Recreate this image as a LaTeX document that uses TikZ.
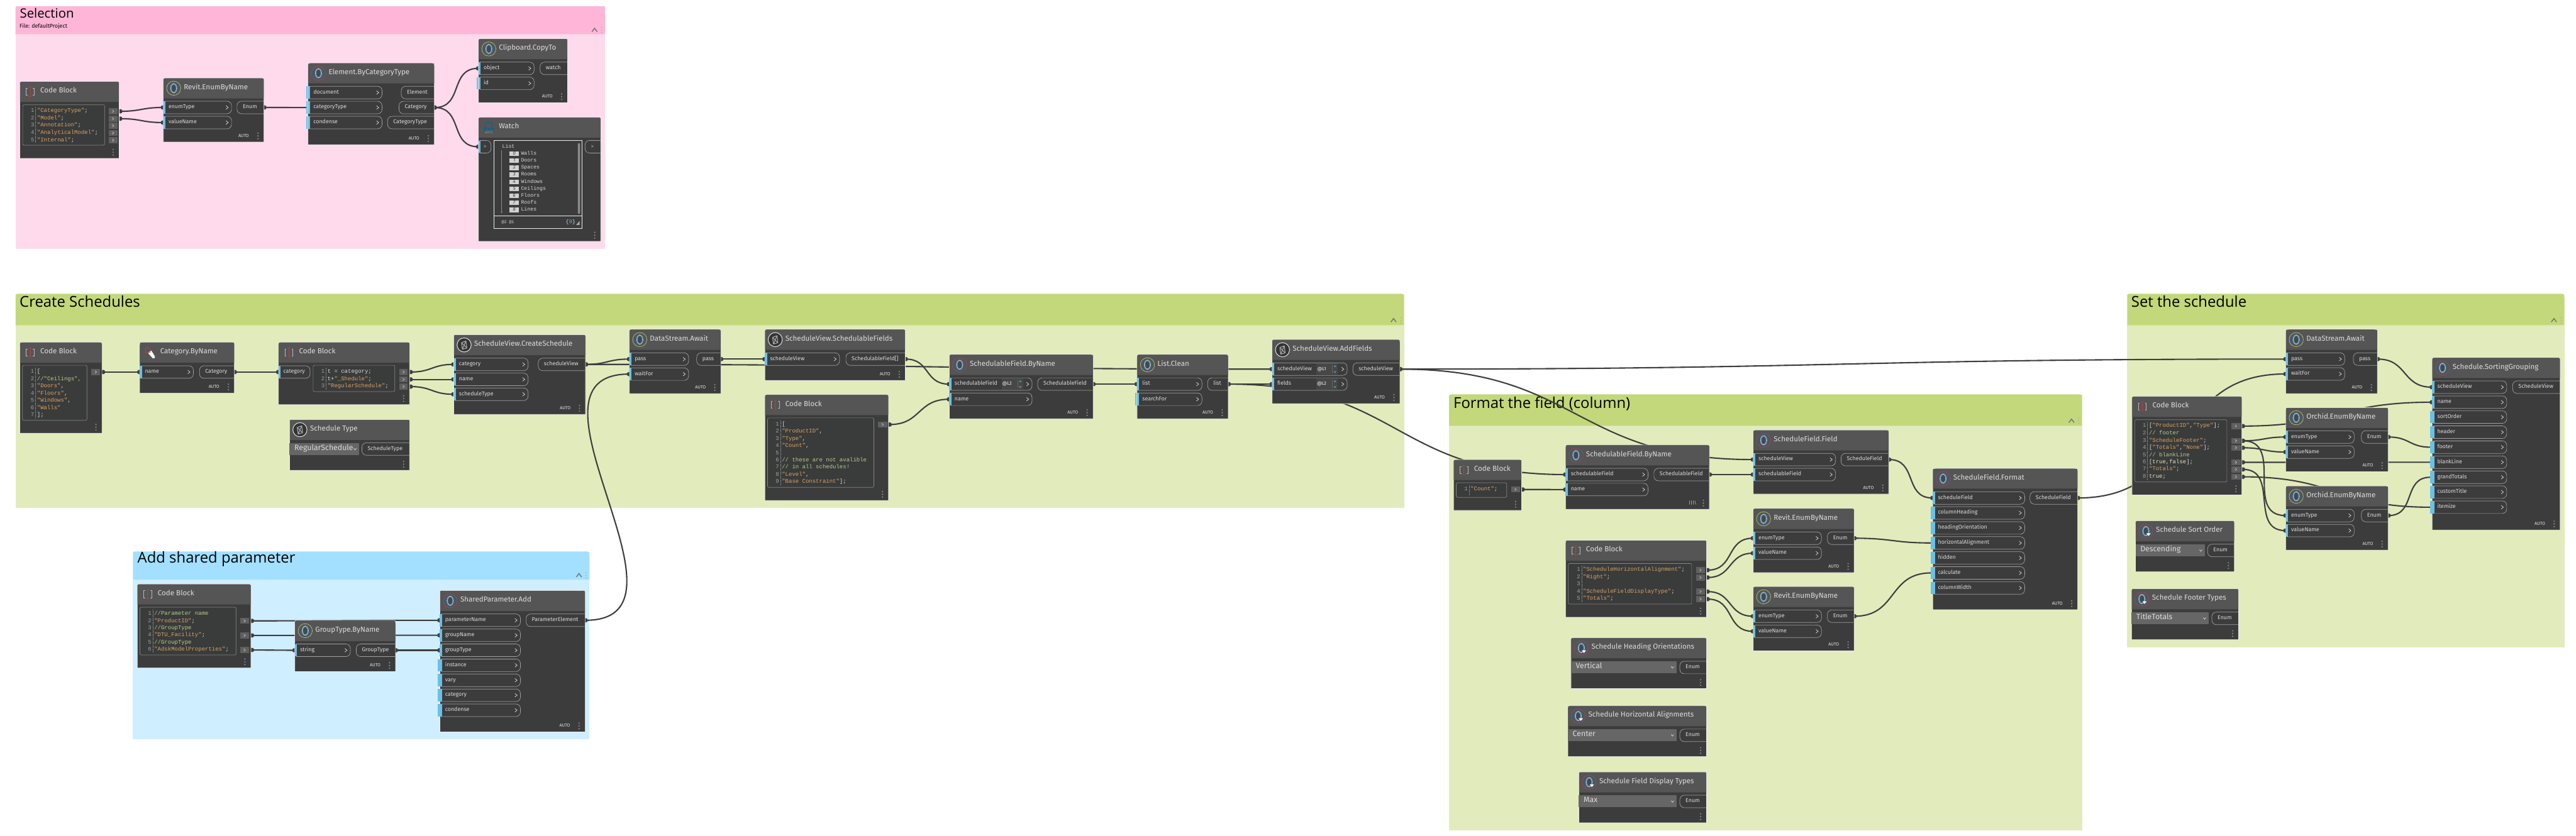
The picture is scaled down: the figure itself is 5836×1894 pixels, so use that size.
\documentclass[tikz,border=0pt]{standalone}
\usepackage{fontspec}
\setmainfont{Fira Sans}
\newfontfamily\monof{Liberation Mono}
\newfontfamily\titlef{Open Sans}
\usetikzlibrary{calc}
\definecolor{bodyc}{HTML}{3C3C3C}
\definecolor{hdrc}{HTML}{555555}
\definecolor{cboxc}{HTML}{3A3B3B}
\definecolor{stripc}{HTML}{6AC0E7}
\definecolor{pillc}{HTML}{A0A0A0}
\definecolor{labc}{HTML}{DCDCDC}
\definecolor{strc}{HTML}{D9A367}
\definecolor{cmc}{HTML}{B4CF8A}
\definecolor{boolc}{HTML}{E8E2C4}
\definecolor{plc}{HTML}{DADADA}
\definecolor{numc}{HTML}{A0A0A0}
\definecolor{chipc}{HTML}{5F5F5F}
\definecolor{ddc}{HTML}{666666}
\definecolor{wirec}{HTML}{3E3E3E}
\definecolor{selH}{HTML}{FFB5D8}
\definecolor{selB}{HTML}{FFDAED}
\definecolor{grnH}{HTML}{C2D87A}
\definecolor{grnB}{HTML}{E2EBBC}
\definecolor{bluH}{HTML}{A3E0FF}
\definecolor{bluB}{HTML}{CFEEFF}
\definecolor{iconb}{HTML}{3F5B6E}
\definecolor{ringY}{HTML}{D8B84A}
\definecolor{ringR}{HTML}{B8403F}
\pgfdeclarelayer{grp}\pgfdeclarelayer{wr}\pgfsetlayers{grp,wr,main}
\tikzset{
 txt/.style={inner sep=0pt,outer sep=0pt,anchor=mid west,text=labc,font=\fontsize{12.6}{14}\selectfont},
 ttl/.style={txt,text=labc,font=\fontsize{16.5}{19}\selectfont},
 mono/.style={txt,text=plc,font=\monof\fontsize{12.8}{14}\selectfont},
 gtitle/.style={txt,text=black,font=\titlef\fontsize{34}{38}\selectfont},
 autot/.style={txt,anchor=mid,text=white!90!black,font=\fontsize{10}{12}\selectfont},
 boxnode/.style={anchor=north west,inner sep=0pt,outer sep=0pt},
 pill/.style={draw=pillc,line width=1pt,rounded corners=10pt},
 wire/.style={draw=wirec,line width=3pt},
 chev/.style={draw=labc,line width=1pt},
}
\newcounter{lb}
\newcommand{\lbl}[4][]{\stepcounter{lb}\node[name=t\arabic{lb},txt,#1] at (#2,#3) {#4};}
\newcommand{\st}[1]{\textcolor{strc}{#1}}
\newcommand{\cmt}[1]{\textcolor{cmc}{#1}}
\newcommand{\bl}[1]{\textcolor{boolc}{#1}}
% groups
\newcommand{\grp}[8]{\node[boxnode,minimum width=2pt,minimum height=2pt] (#1) at (#2,#3) {};
 \fill[#8] (#2,#6) rectangle (#4,#5);
 \fill[#7] (#2,#6) -- (#2,#3+9) .. controls (#2,#3) .. (#2+9,#3) -- (#4-9,#3) .. controls (#4,#3) .. (#4,#3+9) -- (#4,#6) -- cycle;}
\newcommand{\grpctl}[3]{\draw[draw=black!55,line width=2pt] (#1-6,#2+4) -- (#1,#2-4) -- (#1+6,#2+4);
 \foreach \q in {-6,0,6}{\fill[black!40] (#3,#2+\q) circle[radius=1pt];}}
% icons
\newcommand{\iconO}[3]{\fill[iconb] (#1,#2) circle[radius=15.5pt];
 \draw[#3,line width=1pt] (#1,#2) circle[radius=16pt];
 \draw[draw=black!38,fill=iconb!85!black,line width=2.6pt] (#1,#2) ellipse[x radius=6.6pt,y radius=10pt];
 \foreach \a/\b in {0/-10,0/10,-6.6/0,6.6/0}{\fill[white!85!black] (#1+\a,#2+\b) circle[radius=.9pt];}}
\newcommand{\iconY}[2]{\iconO{#1}{#2}{ringY}}
\newcommand{\iconR}[2]{\iconO{#1}{#2}{ringR}}
\newcommand{\iconD}[2]{\iconO{#1}{#2}{ringR}\fill[white] (#1+1,#2+5) -- (#1+11,#2+5) -- (#1+6,#2+11) -- cycle;}
\newcommand{\iconV}[2]{\fill[bodyc!85!black] (#1,#2) circle[radius=15.5pt];
 \draw[black!15,line width=1.5pt] (#1,#2) circle[radius=16pt];
 \draw[black!35,line width=1.6pt,line join=round] (#1-6,#2-5) -- (#1+4,#2-9) -- (#1+6,#2+7) -- (#1-4,#2+10) -- cycle (#1-6,#2-5) -- (#1+6,#2+7) (#1+4,#2-9) -- (#1-4,#2+10);}
\newcommand{\iconC}[2]{\draw[black!28,line width=1pt] (#1-6,#2-8) -- (#1-9,#2-8) -- (#1-9,#2+8) -- (#1-6,#2+8) (#1+6,#2-8) -- (#1+9,#2-8) -- (#1+9,#2+8) -- (#1+6,#2+8);
 \draw[ringR,line width=1.4pt] (#1,#2-10) -- (#1,#2+10) (#1-2.5,#2-10) -- (#1+2.5,#2-10) (#1-2.5,#2+10) -- (#1+2.5,#2+10);}
\newcommand{\iconT}[2]{\fill[white] (#1-2,#2-2) -- (#1+3,#2-4) -- (#1+11,#2+9) -- (#1+10,#2+13) -- (#1+6,#2+13) -- (#1-4,#2+2) -- cycle;
 \draw[ringR,line width=1pt] (#1-11,#2-10) rectangle (#1,#2-1);}
\newcommand{\iconW}[2]{\draw[blue!35!cyan!60!black,line width=1.3pt] (#1-10,#2+9) -- (#1-7,#2-9) .. controls (#1-3,#2-13) and (#1+3,#2-13) .. (#1+7,#2-9) -- (#1+10,#2+9) (#1-10,#2+2) -- (#1+10,#2+2) -- (#1+4,#2+9) -- (#1,#2+4) -- (#1-4,#2+9) -- cycle;
 \lbl[anchor=mid,text=black!45,font=\fontsize{9}{10}\selectfont]{#1}{#2+11}{ab12}}
% footers
\newcommand{\ftD}{\foreach \q in {-6.3,0,6.3}{\fill[black!45] (\curR-13.6,\curB-13.9+\q) circle[radius=1.7pt];}}
\newcommand{\ftA}{\ftD\lbl[autot]{\curR-46}{\curB-13.9}{AUTO}}
\newcommand{\ftL}{\ftD\lbl[autot]{\curR-38}{\curB-13.9}{|||\textbackslash}}
% Dynamo node
\newcommand{\dnode}[9]{\gdef\curX{#2}\gdef\curR{#4}\gdef\curB{#5}%
 \pgfmathsetmacro\myw{#4-#2}\pgfmathsetmacro\myh{#5-#3}\pgfmathsetmacro\myc{(#3+#6)/2}%
 \node[boxnode,minimum width=\myw pt,minimum height=\myh pt] (#1) at (#2,#3) {};
 \path[fill=bodyc,draw=white!92!black,line width=1pt] (#2,#5) -- (#2,#3+7) .. controls (#2,#3) .. (#2+7,#3) -- (#4-7,#3) .. controls (#4,#3) .. (#4,#3+7) -- (#4,#5) -- cycle;
 \fill[hdrc] (#2+.5,#6) -- (#2+.5,#3+7) .. controls (#2+.5,#3+.5) .. (#2+7,#3+.5) -- (#4-7,#3+.5) .. controls (#4-.5,#3+.5) .. (#4-.5,#3+7) -- (#4-.5,#6) -- cycle;
 #8{#2+23.5}{\myc}
 \lbl[ttl]{#2+46.5}{\myc}{#7}
 #9}
\newcommand{\pillIn}[1]{\draw[pill] (\curX+3,#1-14.2) -- (\curIR,#1-14.2) -- (\curIR,#1+14.2) -- (\curX+3,#1+14.2);}
\newcommand{\chv}[2]{\draw[chev] (#1-2.5,#2-4) -- (#1+2.5,#2) -- (#1-2.5,#2+4);}
\newcommand{\setIR}[1]{\gdef\curIR{#1}}
\newcommand{\irow}[3]{\pillIn{#2}\fill[stripc] (\curX,#2-14) rectangle (\curX+5,#2+14);
 \chv{\curIR-10}{#2}\lbl{\curX+12}{#2}{#3}\coordinate (#1) at (\curX-1,#2);}
\newcommand{\irowo}[3]{\pillIn{#2}\fill[stripc] (\curX,#2-14) rectangle (\curX+5,#2+14);
 \fill[stripc] (\curX-4.5,#2-14) rectangle (\curX-.8,#2+14);
 \chv{\curIR-10}{#2}\lbl{\curX+12}{#2}{#3}\coordinate (#1) at (\curX-4,#2);}
\newcommand{\orow}[4]{\draw[pill] (\curR-1,#2-14.2) -- (#4,#2-14.2) -- (#4,#2+14.2) -- (\curR-1,#2+14.2);
 \lbl{#4+13}{#2}{#3}\coordinate (#1) at (\curR+1,#2);}
% code block pieces
\newcommand{\cbox}[5]{\gdef\cnx{#5}\draw[fill=cboxc,draw=black!48,line width=1pt,rounded corners=3pt] (#1,#2) rectangle (#3,#4);
 \draw[black!50,line width=.7pt,densely dotted] (#5+3,#2+5) -- (#5+3,#4-5);}
\newcommand{\cl}[3]{\lbl[mono,anchor=mid east,text=numc]{\cnx}{#1}{#2}\lbl[mono]{\cnx+6.5}{#1}{#3}}
\newcommand{\chip}[4]{\fill[chipc] (#2,#4-6.8) rectangle (#3,#4+6.8);
 \pgfmathsetmacro\myq{(#2+#3)/2}\draw[draw=black!18,line width=.8pt] (\myq-1.8,#4-3) -- (\myq+1.8,#4) -- (\myq-1.8,#4+3);
 \coordinate (#1) at (\curR+2.5,#4);}
\newcommand{\ddrow}[4]{\fill[ddc] (\curX,#2) rectangle (#1,#3);
 \pgfmathsetmacro\myd{(#2+#3)/2}%
 \lbl[text=labc,font=\fontsize{17.5}{20}\selectfont]{\curX+11}{\myd}{#4}
 \draw[chev] (#1-12,\myd-1.5) -- (#1-9,\myd+2) -- (#1-6,\myd-1.5);}
\newcommand{\lace}[3]{\fill[black!72] (#1,#2-12.5) rectangle (#1+49,#2+12.5);
 \draw[black!60,line width=.6pt] (#1+36,#2-10) -- (#1+36,#2+10);
 \lbl[anchor=mid,text=white,font=\fontsize{10.5}{12}\selectfont]{#1+12.5}{#2}{#3}
 \draw[stripc,line width=.8pt] (#1+40.5,#2-4.5) -- (#1+42.5,#2-8) -- (#1+44.5,#2-4.5) (#1+40.5,#2+4.5) -- (#1+42.5,#2+8) -- (#1+44.5,#2+4.5);}
% wires: Bezier with horizontal tangents, handles about half the distance
\newcommand{\wcurve}[2]{\path (#1);\pgfgetlastxy{\ax}{\ay}\path (#2);\pgfgetlastxy{\bx}{\by}%
 \pgfmathsetmacro\cd{49*veclen((\bx-\ax)/100,(\by-\ay)/100)}%
 \draw[wire] (#1) .. controls ([xshift=\cd pt]#1) and ([xshift=-\cd pt]#2) .. (#2);}
\newcommand{\wire}[2]{\fill[wirec] (#1) circle[radius=5pt] (#2) circle[radius=5pt];\wcurve{#1}{#2}}
\newcommand{\wireo}[2]{\fill[wirec] (#1) circle[radius=5pt];\wcurve{#1}{#2}}
\begin{document}
\begin{tikzpicture}[x=1pt,y=-1pt]
\useasboundingbox (0,0) rectangle (5836,1894);
\begin{pgfonlayer}{grp}
\fill[white] (0,0) rectangle (5836,1894);
\grp{gSel}{35}{14}{1371}{564}{78}{selH}{selB}
\lbl[gtitle,font=\titlef\fontsize{29}{32}\selectfont]{45}{38}{Selection}
\lbl[txt,text=black,font=\fontsize{12.6}{14}\selectfont]{44.5}{61}{File: defaultProject}
\grpctl{1347}{68}{1363}
\grp{gCre}{35.3}{666}{3181}{1150.7}{737}{grnH}{grnB}
\lbl[gtitle]{44.5}{694}{Create Schedules}
\grpctl{3157}{726}{3174}
\grp{gAdd}{301}{1250}{1335.4}{1676}{1314}{bluH}{bluB}
\lbl[gtitle]{311.6}{1273}{Add shared parameter}
\grpctl{1311.6}{1304}{1327}
\grp{gFmt}{3282.8}{894}{4717}{1882}{965}{grnH}{grnB}
\lbl[gtitle]{3293}{923}{Format the field (column)}
\grpctl{4693}{954}{4709}
\grp{gSet}{4819}{666}{5809.6}{1467}{737}{grnH}{grnB}
\lbl[gtitle]{4828.5}{694}{Set the schedule}
\grpctl{5786}{726}{5802}
\end{pgfonlayer}
% ---------- Selection ----------
\dnode{cbS}{45}{185}{270}{359}{231}{Code Block}{\iconC}{\ftD}
\cbox{51.5}{237.5}{237}{329}{77.5}
\cl{252.3}{1}{\st{"CategoryType"};}
\cl{269}{2}{\st{"Model"};}
\cl{285}{3}{\st{"Annotation"};}
\cl{301.5}{4}{\st{"AnalyticalModel"};}
\cl{318}{5}{\st{"Internal"};}
\chip{cbS1}{246}{266}{252.3}\chip{cbS2}{246}{266}{269}\chip{cbS3}{246}{266}{285}\chip{cbS4}{246}{266}{301.5}\chip{cbS5}{246}{266}{318}
\dnode{revS}{370}{177}{598}{322}{223}{Revit.EnumByName}{\iconY}{\ftA}
\setIR{524.5}
\irow{revSa}{243.6}{enumType}\irow{revSb}{277.8}{valueName}\orow{revSo}{243.6}{Enum}{537}
\dnode{ebc}{698}{143}{984}{328}{189}{Element.ByCategoryType}{\iconR}{\ftA}
\setIR{865.5}
\irowo{ebcA}{209.8}{document}\irowo{ebcB}{243.8}{categoryType}\irowo{ebcC}{277.8}{condense}
\orow{ebcO1}{209.8}{Element}{909}\orow{ebcO2}{243.8}{Category}{904}\orow{ebcO3}{277.8}{CategoryType}{878}
\dnode{clip}{1084}{88}{1286}{233}{134}{Clipboard.CopyTo}{\iconY}{\ftA}
\setIR{1210}
\irow{clipA}{155}{object}\irowo{clipB}{189}{id}\orow{clipO}{155}{watch}{1223.6}
\dnode{wat}{1084}{266}{1361}{547}{312}{Watch}{\iconW}{\ftD}
\setIR{1112.5}
\pillIn{332.6}\fill[stripc] (1084,318.6) rectangle (1089,346.6);
\lbl[anchor=mid,font=\monof\fontsize{10}{12}\selectfont]{1099}{332.6}{>}
\coordinate (watIn) at (1083,332.6);
\draw[pill] (1360,318.4) -- (1325.5,318.4) -- (1325.5,346.8) -- (1360,346.8);
\lbl[anchor=mid,font=\monof\fontsize{10}{12}\selectfont]{1342}{332.6}{>}
\draw[draw=white!92!black,line width=1pt] (1119.4,318.5) rectangle (1318.6,517.6) (1119.4,489.5) -- (1318.6,489.5);
\fill[black!45,rounded corners=2pt] (1309.3,324.5) rectangle (1314.3,485);
\lbl[mono,font=\monof\fontsize{11.7}{14}\selectfont]{1138}{333}{List}
\draw[black!45,line width=.8pt] (1136.4,340) -- (1136.4,481);\fill[black!45] (1136.4,481) circle[radius=1.8pt];
\foreach \yy/\nn/\lname in {348/0/Walls,364.4/1/Doors,380.3/2/Spaces,396.2/3/Rooms,412.1/4/Windows,428/5/Ceilings,444/6/Floors,459.9/7/Roofs,476/8/Lines}{
 \fill[black!18] (1154,\yy-5.2) rectangle (1176,\yy+5.2);
 \lbl[anchor=mid,text=black!75,font=\itshape\fontsize{11}{12}\selectfont]{1165}{\yy}{\nn}
 \lbl[mono,font=\monof\fontsize{11.7}{14}\selectfont]{1180.5}{\yy}{\lname}}
\lbl[mono,font=\monof\fontsize{9.5}{12}\selectfont]{1136.5}{504}{@2 @1}
\lbl[mono,anchor=mid east,font=\monof\fontsize{12}{14}\selectfont]{1303.5}{504}{\{\textcolor{stripc}{9}\}}
\fill[black!35] (1305,510) -- (1313,510) -- (1313,501) -- cycle;
% ---------- Create Schedules ----------
\dnode{cbC}{45}{776}{231}{982}{822}{Code Block}{\iconC}{\ftD}
\cbox{51}{828}{197}{952.7}{77.4}
\cl{843.3}{1}{[}\cl{860}{2}{\cmt{//"Ceilings",}}\cl{876.3}{3}{\st{"Doors"},}\cl{892.3}{4}{\st{"Floors"},}\cl{909}{5}{\st{"Windows"},}\cl{925}{6}{\st{"Walls"}}\cl{941.7}{7}{];}
\chip{cbCo}{207}{227}{843.3}
\dnode{catN}{316.5}{776}{531}{891}{822}{Category.ByName}{\iconT}{\ftA}
\setIR{438}
\irow{catNa}{843.3}{name}\orow{catNo}{843.3}{Category}{452}
\dnode{cbT}{631}{776}{928}{917.3}{822}{Code Block}{\iconC}{\ftD}
\setIR{702.4}
\draw[pill] (634,829.1) -- (702.4,829.1) -- (702.4,857.5) -- (634,857.5);
\fill[stripc] (631,829.3) rectangle (636,857.3);
\lbl{642}{843.3}{category}\coordinate (cbTa) at (630,843.3);
\cbox{709.4}{828}{894.3}{887.7}{735.5}
\cl{843.3}{1}{t = category;}\cl{860}{2}{t+\st{"\_Shedule"};}\cl{876.3}{3}{\st{"RegularSchedule"};}
\chip{cbT1}{904.6}{923.7}{843.3}\chip{cbT2}{904.6}{923.7}{860}\chip{cbT3}{904.6}{923.7}{876.3}
\dnode{schT}{656}{951}{928}{1066}{997}{Schedule Type}{\iconV}{\ftD}
\ddrow{813.3}{1004}{1031.7}{RegularSchedule}
\orow{schTo}{1017.7}{ScheduleType}{820}
\dnode{crS}{1028}{758.7}{1326.5}{939.3}{805}{ScheduleView.CreateSchedule}{\iconV}{\ftA}
\setIR{1196.4}
\irow{crSa}{826}{category}\irow{crSb}{860}{name}\irow{crSc}{893.7}{scheduleType}\orow{crSo}{826}{scheduleView}{1219.4}
\dnode{awA}{1426}{746.7}{1633}{892.3}{793}{DataStream.Await}{\iconY}{\ftA}
\setIR{1560}
\irow{awAa}{814}{pass}\irow{awAb}{848}{waitFor}\orow{awAo}{814}{pass}{1578.4}
\dnode{sfl}{1732.8}{746.7}{2051}{862.3}{793}{ScheduleView.SchedulableFields}{\iconV}{\ftA}
\setIR{1902}
\irow{sfla}{814}{scheduleView}\orow{sflo}{814}{SchedulableField[]}{1916.5}
\dnode{cbF}{1732.8}{894.7}{2013}{1134.3}{941}{Code Block}{\iconC}{\ftD}
\cbox{1739}{947.3}{1979.6}{1104.7}{1765}
\cl{962.3}{1}{[}\cl{979}{2}{\st{"ProductID"},}\cl{995}{3}{\st{"Type"},}\cl{1011}{4}{\st{"Count"},}\cl{1028.3}{5}{}\cl{1044}{6}{\cmt{// these are not avalible}}\cl{1060}{7}{\cmt{// in all schedules!}}\cl{1077}{8}{\st{"Level"},}\cl{1093}{9}{\st{"Base Constraint"}];}
\chip{cbFo}{1989}{2009.7}{962.3}
\dnode{byN}{2150.7}{803.7}{2476.5}{949.3}{850}{SchedulableField.ByName}{\iconR}{\ftA}
\setIR{2338}
\lace{2269}{870.7}{@L2}
\irow{byNa}{870.7}{schedulableField}\irow{byNb}{905}{name}\orow{byNo}{870.7}{SchedulableField}{2351}
\dnode{lcl}{2576}{803.7}{2782.5}{949.3}{850}{List.Clean}{\iconY}{\ftA}
\setIR{2723}
\irow{lcla}{870.7}{list}\irowo{lclb}{905}{searchFor}\orow{lclo}{870.7}{list}{2736}
\dnode{adf}{2882}{769.7}{3171.4}{915}{816}{ScheduleView.AddFields}{\iconV}{\ftA}
\setIR{3052}
\lace{2982}{836.7}{@L1}\lace{2982}{870.7}{@L2}
\irow{adfa}{836.7}{scheduleView}\irow{adfb}{870.7}{fields}\orow{adfo}{836.7}{scheduleView}{3065}
% ---------- Add shared parameter ----------
\dnode{cbP}{311}{1324}{568.4}{1514}{1370}{Code Block}{\iconC}{\ftD}
\cbox{317}{1376.3}{534.7}{1484.7}{343}
\cl{1391.7}{1}{\cmt{//Parameter name}}\cl{1408}{2}{\st{"ProductID"};}\cl{1424.3}{3}{\cmt{//GroupType}}\cl{1440.3}{4}{\st{"DTU\_Facility"};}\cl{1457.3}{5}{\cmt{//GroupType}}\cl{1473.3}{6}{\st{"AdskModelProperties"};}
\chip{cbP1}{544}{564}{1407.3}\chip{cbP2}{544}{564}{1440.3}\chip{cbP3}{544}{564}{1473.3}
\dnode{grT}{668}{1406.3}{896}{1522.3}{1453}{GroupType.ByName}{\iconY}{\ftA}
\setIR{793.7}
\irow{grTa}{1474}{string}\orow{grTo}{1474}{GroupType}{807}
\dnode{shP}{996.5}{1338.7}{1325.6}{1659.3}{1385}{SharedParameter.Add}{\iconR}{\ftA}
\setIR{1179}
\irow{shPa}{1406}{parameterName}\irow{shPb}{1440}{groupName}\irow{shPc}{1474}{groupType}\irowo{shPd}{1508}{instance}\irowo{shPe}{1542}{vary}\irowo{shPf}{1576}{category}\irowo{shPg}{1610}{condense}
\orow{shPo}{1406}{ParameterElement}{1192}
% ---------- Format ----------
\dnode{cbN}{3293}{1042}{3447.3}{1157}{1088}{Code Block}{\iconC}{\ftD}
\cbox{3299}{1094.3}{3413.5}{1127.3}{3325}
\cl{1109.5}{1}{\st{"Count"};}
\chip{cbNo}{3423.7}{3443}{1109.5}
\dnode{byM}{3546.8}{1008.7}{3872.7}{1154.3}{1055}{SchedulableField.ByName}{\iconR}{\ftL}
\setIR{3733.6}
\irow{byMa}{1075.7}{schedulableField}\irow{byMb}{1109.7}{name}\orow{byMo}{1075.7}{SchedulableField}{3747}
\dnode{sfF}{3972}{975}{4279}{1120}{1021}{ScheduleField.Field}{\iconR}{\ftA}
\setIR{4158.4}
\irow{sfFa}{1041.7}{scheduleView}\irow{sfFb}{1075.7}{schedulableField}\orow{sfFo}{1041.7}{ScheduleField}{4171}
\dnode{enA}{3972}{1152.7}{4200.5}{1298}{1199.3}{Revit.EnumByName}{\iconY}{\ftA}
\setIR{4126.5}
\irow{enAa}{1220}{enumType}\irow{enAb}{1254}{valueName}\orow{enAo}{1220}{Enum}{4140}
\dnode{enB}{3972}{1329.8}{4200.5}{1475.5}{1375.8}{Revit.EnumByName}{\iconY}{\ftA}
\setIR{4126.5}
\irow{enBa}{1396.8}{enumType}\irow{enBb}{1431}{valueName}\orow{enBo}{1396.8}{Enum}{4140}
\dnode{cbH}{3546.8}{1225}{3866.3}{1399}{1271}{Code Block}{\iconC}{\ftD}
\cbox{3553}{1277.3}{3832.5}{1369.3}{3580}
\cl{1292.3}{1}{\st{"ScheduleHorizontalAlignment"};}\cl{1309}{2}{\st{"Right"};}\cl{1325}{3}{}\cl{1341}{4}{\st{"ScheduleFieldDisplayType"};}\cl{1358}{5}{\st{"Totals"};}
\chip{cbH1}{3842.7}{3862}{1292.3}\chip{cbH2}{3842.7}{3862}{1309}\chip{cbH4}{3842.7}{3862}{1341}\chip{cbH5}{3842.7}{3862}{1358}
\dnode{ddO}{3559}{1446}{3866.3}{1561}{1492}{Schedule Heading Orientations}{\iconD}{\ftD}
\ddrow{3798}{1498.8}{1526}{Vertical}\orow{ddOo}{1513}{Enum}{3805.7}
\dnode{ddH}{3552}{1600}{3866.3}{1715}{1646}{Schedule Horizontal Alignments}{\iconD}{\ftD}
\ddrow{3798}{1652.7}{1680}{Center}\orow{ddHo}{1666.8}{Enum}{3805.7}
\dnode{ddF}{3576.8}{1750}{3866.3}{1865}{1796}{Schedule Field Display Types}{\iconD}{\ftD}
\ddrow{3798}{1803}{1830}{Max}\orow{ddFo}{1816.6}{Enum}{3805.7}
\dnode{fmt}{4378.6}{1062}{4707}{1382}{1107.7}{ScheduleField.Format}{\iconR}{\ftA}
\setIR{4587}
\irow{fmta}{1128.7}{scheduleField}\irowo{fmtb}{1162.7}{columnHeading}\irowo{fmtc}{1196.7}{headingOrientation}\irowo{fmtd}{1230.7}{horizontalAlignment}\irowo{fmte}{1264.7}{hidden}\irowo{fmtf}{1298.7}{calculate}\irowo{fmtg}{1332.7}{columnWidth}
\orow{fmto}{1128.7}{ScheduleField}{4599}
% ---------- Set the schedule ----------
\dnode{cbZ}{4830}{898.6}{5079}{1122}{945}{Code Block}{\iconC}{\ftD}
\cbox{4836.6}{951.3}{5045}{1092.5}{4862}
\cl{965.8}{1}{[\st{"ProductID"},\st{"Type"}];}\cl{983}{2}{\cmt{// footer}}\cl{999.2}{3}{\st{"ScheduleFooter"};}\cl{1015}{4}{[\st{"Totals"},\st{"None"}];}\cl{1032}{5}{\cmt{// blankLine}}\cl{1048}{6}{[\bl{true},\bl{false}];}\cl{1064}{7}{\st{"Totals"};}\cl{1080.8}{8}{\bl{true};}
\chip{cbZ1}{5054.7}{5076}{965.8}\chip{cbZ3}{5054.7}{5076}{999.2}\chip{cbZ4}{5054.7}{5076}{1015}\chip{cbZ6}{5054.7}{5076}{1048}\chip{cbZ7}{5054.7}{5076}{1064}\chip{cbZ8}{5054.7}{5076}{1080.8}
\dnode{awB}{5178.6}{746.8}{5386}{892.4}{793}{DataStream.Await}{\iconY}{\ftA}
\setIR{5312}
\irow{awBa}{814}{pass}\irow{awBb}{847.7}{waitFor}\orow{awBo}{814}{pass}{5331.5}
\dnode{orA}{5178.6}{924}{5410.3}{1069.4}{970}{Orchid.EnumByName}{\iconY}{\ftA}
\setIR{5333.5}
\irow{orAa}{990.6}{enumType}\irow{orAb}{1024.7}{valueName}\orow{orAo}{990.6}{Enum}{5349.7}
\dnode{orB}{5178.6}{1101.8}{5410.3}{1247}{1148}{Orchid.EnumByName}{\iconY}{\ftA}
\setIR{5333.5}
\irow{orBa}{1168.6}{enumType}\irow{orBb}{1202.7}{valueName}\orow{orBo}{1168.6}{Enum}{5349.7}
\dnode{ssg}{5510}{810.8}{5800}{1201.3}{857}{Schedule.SortingGrouping}{\iconR}{\ftA}
\setIR{5679}
\irow{ssga}{877.6}{scheduleView}\irow{ssgb}{911.7}{name}\irowo{ssgc}{945.5}{sortOrder}\irowo{ssgd}{979.6}{header}\irowo{ssge}{1013.6}{footer}\irowo{ssgf}{1047.7}{blankLine}\irowo{ssgg}{1081.8}{grandTotals}\irowo{ssgh}{1115.5}{customTitle}\irowo{ssgi}{1149.7}{itemize}
\orow{ssgo}{877.6}{ScheduleView}{5692.5}
\dnode{ddS}{4838}{1180.7}{5062}{1296}{1227}{Schedule Sort Order}{\iconD}{\ftD}
\ddrow{4995}{1233.7}{1261.3}{Descending}\orow{ddSo}{1247.7}{Enum}{5001.5}
\dnode{ddT}{4829}{1334.7}{5071.6}{1450}{1381}{Schedule Footer Types}{\iconD}{\ftD}
\ddrow{5003.6}{1387.7}{1415.3}{TitleTotals}\orow{ddTo}{1401.7}{Enum}{5011}
% ---------- wires ----------
\begin{pgfonlayer}{wr}
\wire{cbS1}{revSa}\wire{cbS2}{revSb}\wireo{revSo}{ebcB}
\wire{ebcO2}{clipA}\wire{ebcO2}{watIn}
\wire{cbCo}{catNa}\wire{catNo}{cbTa}
\wire{cbT1}{crSa}\wire{cbT2}{crSb}\wire{cbT3}{crSc}
\wire{crSo}{awAa}\wire{crSo}{adfa}
\wire{shPo}{awAb}
\wire{awAo}{sfla}\wire{sflo}{byNa}\wire{cbFo}{byNb}
\wire{byNo}{lcla}\wire{lclo}{adfb}\wire{lclo}{byMa}
\wire{cbP1}{shPa}\wire{cbP2}{shPb}\wire{cbP3}{grTa}\wire{grTo}{shPc}
\wire{adfo}{sfFa}\wire{adfo}{awBa}
\wire{byMo}{sfFb}\wire{cbNo}{byMb}
\wire{cbH1}{enAa}\wire{cbH2}{enAb}\wire{cbH4}{enBa}\wire{cbH5}{enBb}
\wire{sfFo}{fmta}\wireo{enAo}{fmtd}\wireo{enBo}{fmtf}
\wire{fmto}{awBb}
\wire{awBo}{ssga}\wire{cbZ1}{ssgb}
\wire{cbZ3}{orAa}\wire{cbZ3}{orBa}\wire{cbZ4}{orAb}\wire{cbZ7}{orBb}
\wireo{cbZ6}{ssgf}\wireo{cbZ8}{ssgi}
\wireo{orAo}{ssge}\wireo{orBo}{ssgg}
\end{pgfonlayer}
\end{tikzpicture}
\end{document}
